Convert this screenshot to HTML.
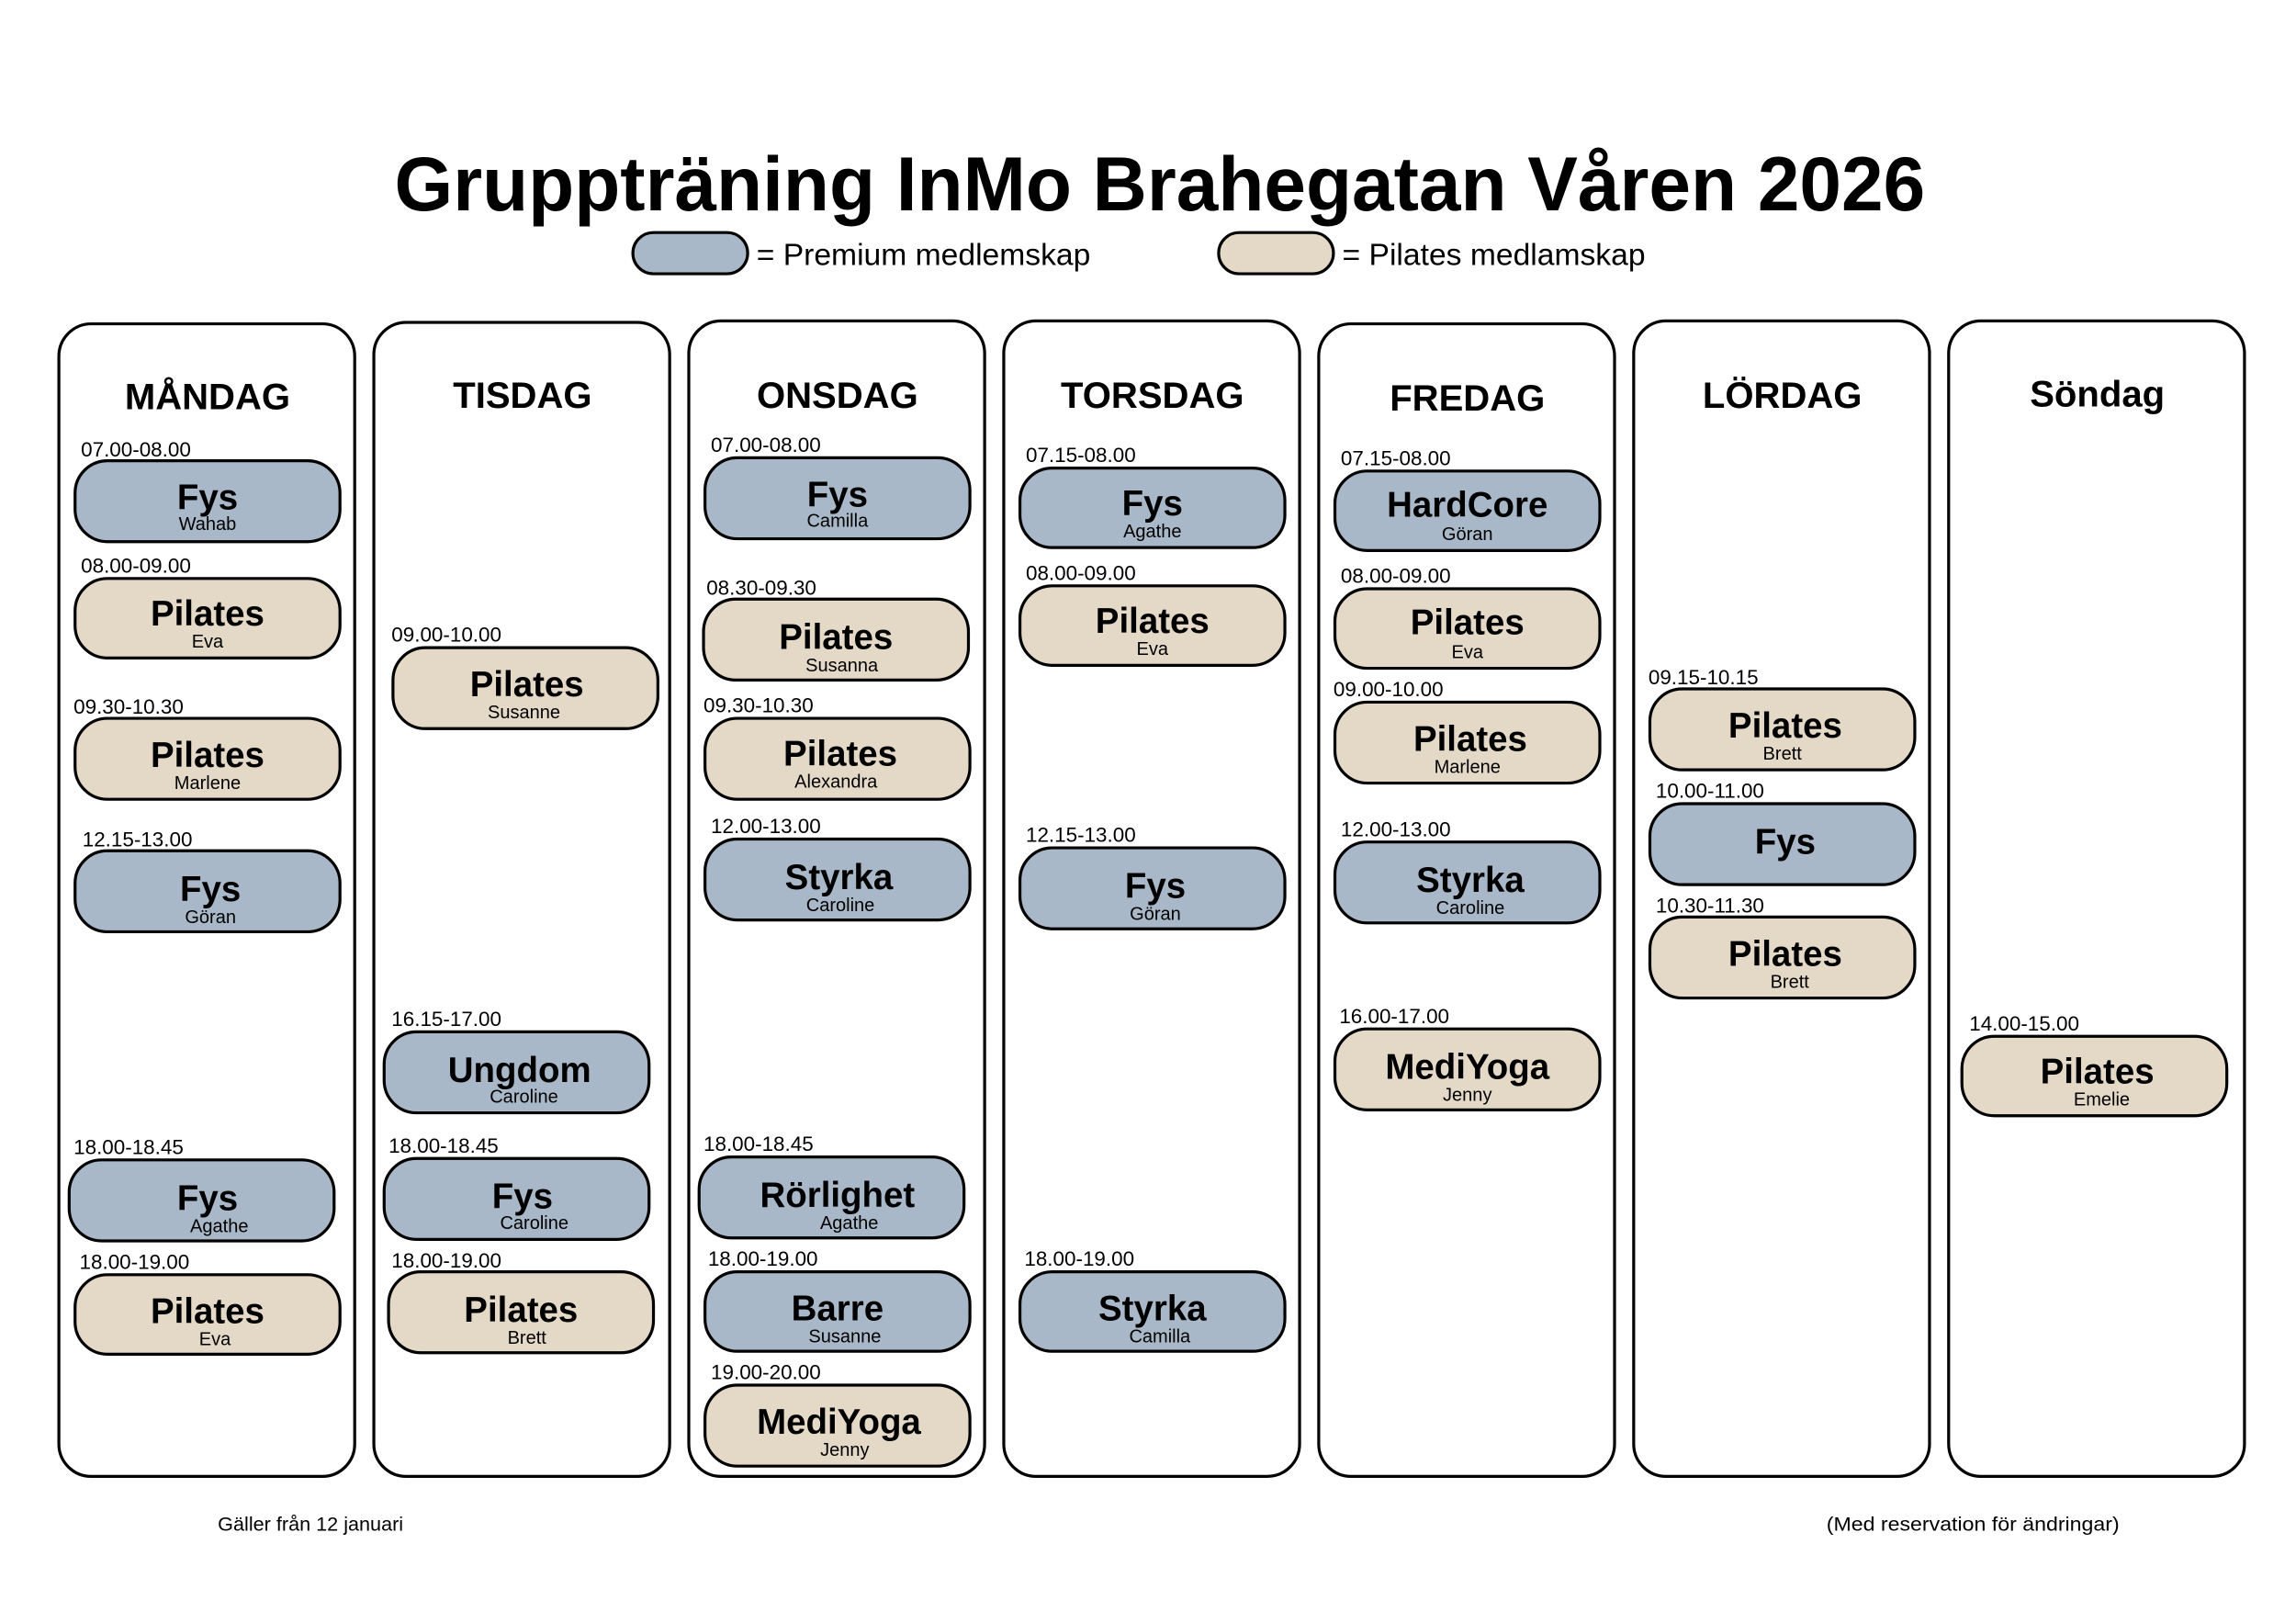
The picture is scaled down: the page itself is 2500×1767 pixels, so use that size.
<!DOCTYPE html>
<html><head><meta charset="utf-8"><style>
html,body{margin:0;padding:0;background:#fff;}
svg{display:block;}
text{font-family:"Liberation Sans",sans-serif;fill:#000;}
.d{font-size:25px;font-weight:bold;text-anchor:middle;}
.t{font-size:14px;}
.n{font-size:24px;font-weight:bold;text-anchor:middle;}
.i{font-size:12.5px;text-anchor:middle;}
.b{fill:#a9b8c8;stroke:#000;stroke-width:2;}
.p{fill:#e4d9c6;stroke:#000;stroke-width:2;}
.c{fill:#fff;stroke:#000;stroke-width:2;}
</style></head><body>
<svg width="2500" height="1767" viewBox="0 0 1560 1102.6" preserveAspectRatio="none" xmlns="http://www.w3.org/2000/svg">
<text x="268" y="143" font-size="52" font-weight="bold" textLength="1040" lengthAdjust="spacingAndGlyphs">Gruppträning InMo Brahegatan Våren 2026</text>
<rect class="b" x="430" y="158" width="78" height="28" rx="14"/>
<text x="514" y="180" font-size="21">= Premium medlemskap</text>
<rect class="p" x="828" y="158" width="78" height="28" rx="14"/>
<text x="912" y="180" font-size="21">= Pilates medlamskap</text>

<rect class="c" x="40" y="220" width="201" height="783" rx="22"/>
<rect class="c" x="254" y="219" width="201" height="784" rx="22"/>
<rect class="c" x="468" y="218" width="201" height="785" rx="22"/>
<rect class="c" x="682" y="218" width="201" height="785" rx="22"/>
<rect class="c" x="896" y="220" width="201" height="783" rx="22"/>
<rect class="c" x="1110" y="218" width="201" height="785" rx="22"/>
<rect class="c" x="1324" y="218" width="201" height="785" rx="22"/>

<text class="d" x="141" y="278">MÅNDAG</text>
<text class="d" x="355" y="277">TISDAG</text>
<text class="d" x="569" y="277">ONSDAG</text>
<text class="d" x="783" y="277">TORSDAG</text>
<text class="d" x="997" y="279">FREDAG</text>
<text class="d" x="1211" y="277">LÖRDAG</text>
<text class="d" x="1425" y="276">Söndag</text>

<!-- Monday -->
<text class="t" x="55" y="310">07.00-08.00</text>
<rect class="b" x="51" y="313" width="180" height="55" rx="22"/><text class="n" x="141" y="346">Fys</text><text class="i" x="141" y="360">Wahab</text>
<text class="t" x="55" y="389">08.00-09.00</text>
<rect class="p" x="51" y="393" width="180" height="54" rx="22"/><text class="n" x="141" y="425">Pilates</text><text class="i" x="141" y="440">Eva</text>
<text class="t" x="50" y="485">09.30-10.30</text>
<rect class="p" x="51" y="488" width="180" height="55" rx="22"/><text class="n" x="141" y="521">Pilates</text><text class="i" x="141" y="536">Marlene</text>
<text class="t" x="56" y="575">12.15-13.00</text>
<rect class="b" x="51" y="578" width="180" height="55" rx="22"/><text class="n" x="143" y="612">Fys</text><text class="i" x="143" y="627">Göran</text>
<text class="t" x="50" y="784">18.00-18.45</text>
<rect class="b" x="47" y="788" width="180" height="55" rx="22"/><text class="n" x="141" y="822">Fys</text><text class="i" x="149" y="837">Agathe</text>
<text class="t" x="54" y="862">18.00-19.00</text>
<rect class="p" x="51" y="866" width="180" height="54" rx="22"/><text class="n" x="141" y="899">Pilates</text><text class="i" x="146" y="914">Eva</text>

<!-- Tuesday -->
<text class="t" x="266" y="436">09.00-10.00</text>
<rect class="p" x="267" y="440" width="180" height="55" rx="22"/><text class="n" x="358" y="473">Pilates</text><text class="i" x="356" y="488">Susanne</text>
<text class="t" x="266" y="697">16.15-17.00</text>
<rect class="b" x="261" y="701" width="180" height="55" rx="22"/><text class="n" x="353" y="735">Ungdom</text><text class="i" x="356" y="749">Caroline</text>
<text class="t" x="264" y="783">18.00-18.45</text>
<rect class="b" x="261" y="787" width="180" height="55" rx="22"/><text class="n" x="355" y="821">Fys</text><text class="i" x="363" y="835">Caroline</text>
<text class="t" x="266" y="861">18.00-19.00</text>
<rect class="p" x="264" y="864" width="180" height="55" rx="22"/><text class="n" x="354" y="898">Pilates</text><text class="i" x="358" y="913">Brett</text>

<!-- Wednesday -->
<text class="t" x="483" y="307">07.00-08.00</text>
<rect class="b" x="479" y="311" width="180" height="55" rx="22"/><text class="n" x="569" y="344">Fys</text><text class="i" x="569" y="358">Camilla</text>
<text class="t" x="480" y="404">08.30-09.30</text>
<rect class="p" x="478" y="407" width="180" height="55" rx="22"/><text class="n" x="568" y="441">Pilates</text><text class="i" x="572" y="456">Susanna</text>
<text class="t" x="478" y="484">09.30-10.30</text>
<rect class="p" x="479" y="488" width="180" height="55" rx="22"/><text class="n" x="571" y="520">Pilates</text><text class="i" x="568" y="535">Alexandra</text>
<text class="t" x="483" y="566">12.00-13.00</text>
<rect class="b" x="479" y="570" width="180" height="55" rx="22"/><text class="n" x="570" y="604">Styrka</text><text class="i" x="571" y="619">Caroline</text>
<text class="t" x="478" y="782">18.00-18.45</text>
<rect class="b" x="475" y="786" width="180" height="55" rx="22"/><text class="n" x="569" y="820">Rörlighet</text><text class="i" x="577" y="835">Agathe</text>
<text class="t" x="481" y="860">18.00-19.00</text>
<rect class="b" x="479" y="864" width="180" height="54" rx="22"/><text class="n" x="569" y="897">Barre</text><text class="i" x="574" y="912">Susanne</text>
<text class="t" x="483" y="937">19.00-20.00</text>
<rect class="p" x="479" y="941" width="180" height="55" rx="22"/><text class="n" x="570" y="974">MediYoga</text><text class="i" x="574" y="989">Jenny</text>

<!-- Thursday -->
<text class="t" x="697" y="314">07.15-08.00</text>
<rect class="b" x="693" y="318" width="180" height="54" rx="22"/><text class="n" x="783" y="350">Fys</text><text class="i" x="783" y="365">Agathe</text>
<text class="t" x="697" y="394">08.00-09.00</text>
<rect class="p" x="693" y="398" width="180" height="54" rx="22"/><text class="n" x="783" y="430">Pilates</text><text class="i" x="783" y="445">Eva</text>
<text class="t" x="697" y="572">12.15-13.00</text>
<rect class="b" x="693" y="576" width="180" height="55" rx="22"/><text class="n" x="785" y="610">Fys</text><text class="i" x="785" y="625">Göran</text>
<text class="t" x="696" y="860">18.00-19.00</text>
<rect class="b" x="693" y="864" width="180" height="54" rx="22"/><text class="n" x="783" y="897">Styrka</text><text class="i" x="788" y="912">Camilla</text>

<!-- Friday -->
<text class="t" x="911" y="316">07.15-08.00</text>
<rect class="b" x="907" y="320" width="180" height="54" rx="22"/><text class="n" x="997" y="351">HardCore</text><text class="i" x="997" y="367">Göran</text>
<text class="t" x="911" y="396">08.00-09.00</text>
<rect class="p" x="907" y="400" width="180" height="54" rx="22"/><text class="n" x="997" y="431">Pilates</text><text class="i" x="997" y="447">Eva</text>
<text class="t" x="906" y="473">09.00-10.00</text>
<rect class="p" x="907" y="477" width="180" height="55" rx="22"/><text class="n" x="999" y="510">Pilates</text><text class="i" x="997" y="525">Marlene</text>
<text class="t" x="911" y="568">12.00-13.00</text>
<rect class="b" x="907" y="572" width="180" height="55" rx="22"/><text class="n" x="999" y="606">Styrka</text><text class="i" x="999" y="621">Caroline</text>
<text class="t" x="910" y="695">16.00-17.00</text>
<rect class="p" x="907" y="699" width="180" height="55" rx="22"/><text class="n" x="997" y="733">MediYoga</text><text class="i" x="997" y="748">Jenny</text>

<!-- Saturday -->
<text class="t" x="1120" y="465">09.15-10.15</text>
<rect class="p" x="1121" y="468" width="180" height="55" rx="22"/><text class="n" x="1213" y="501">Pilates</text><text class="i" x="1211" y="516">Brett</text>
<text class="t" x="1125" y="542">10.00-11.00</text>
<rect class="b" x="1121" y="546" width="180" height="55" rx="22"/><text class="n" x="1213" y="580">Fys</text>
<text class="t" x="1125" y="620">10.30-11.30</text>
<rect class="p" x="1121" y="623" width="180" height="55" rx="22"/><text class="n" x="1213" y="656">Pilates</text><text class="i" x="1216" y="671">Brett</text>

<!-- Sunday -->
<text class="t" x="1338" y="700">14.00-15.00</text>
<rect class="p" x="1333" y="704" width="180" height="54" rx="22"/><text class="n" x="1425" y="736">Pilates</text><text class="i" x="1428" y="751">Emelie</text>

<text x="148" y="1040" font-size="13.5">Gäller från 12 januari</text>
<text x="1241" y="1040" font-size="13.5" textLength="199" lengthAdjust="spacingAndGlyphs">(Med reservation för ändringar)</text>
</svg>
</body></html>
